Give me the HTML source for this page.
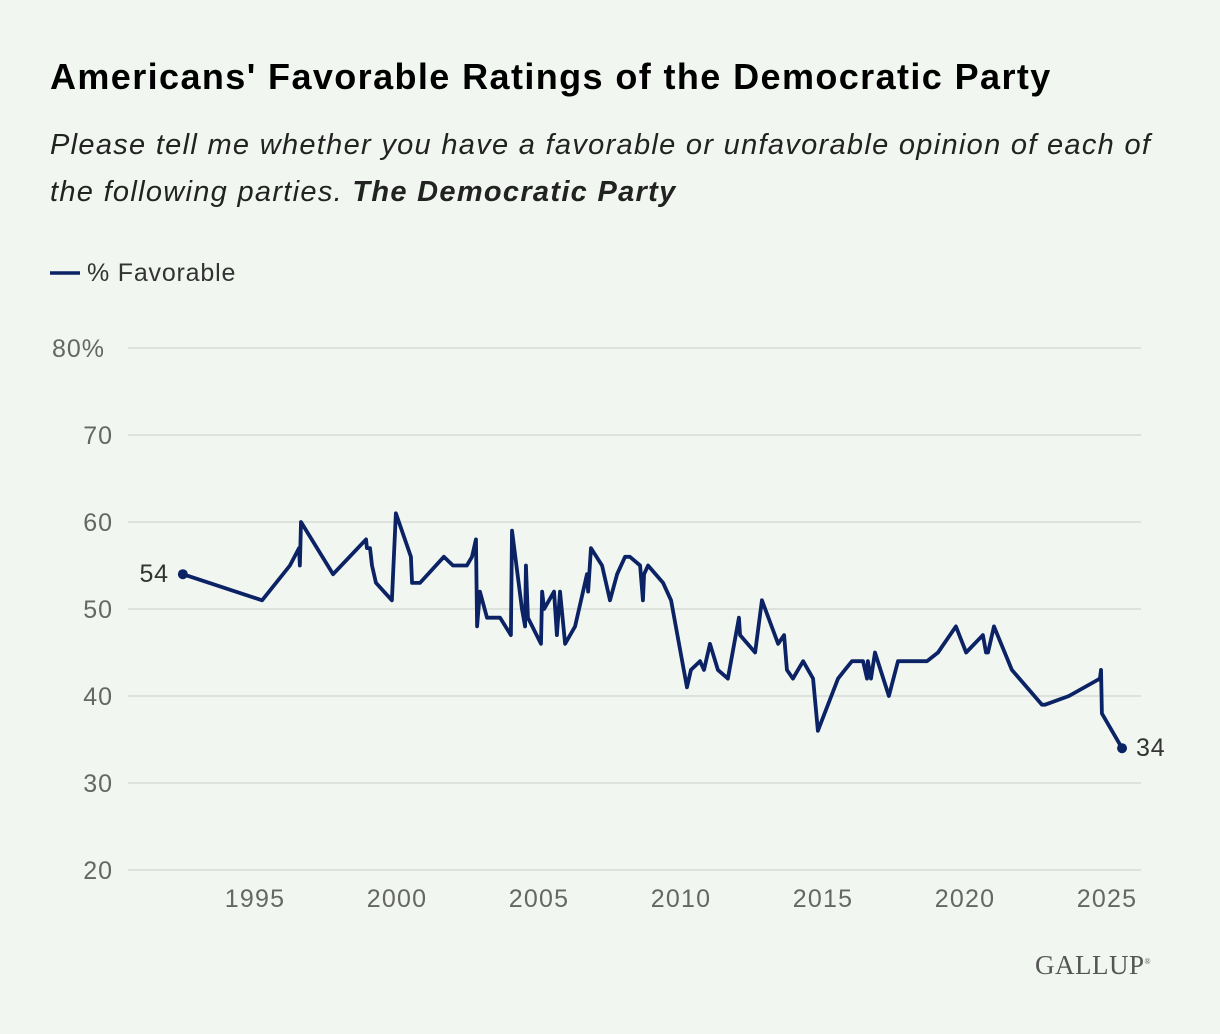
<!DOCTYPE html>
<html><head><meta charset="utf-8"><style>
body{margin:0;background:#f1f7f0;font-family:"Liberation Sans",sans-serif;}
#wrap{position:relative;width:1220px;height:1034px;overflow:hidden;}
h1{position:absolute;left:50px;top:56px;margin:0;font-size:36px;letter-spacing:1.4px;font-weight:bold;color:#000;white-space:nowrap;}
.sub{position:absolute;left:50px;top:122px;margin:0;font-size:29px;letter-spacing:1.3px;font-style:italic;color:#222;line-height:47px;width:1120px;}
.logo{position:absolute;left:1035px;top:950px;font-family:"Liberation Serif",serif;font-size:27px;color:#555;letter-spacing:0.5px;}
</style></head><body><div id="wrap">
<h1>Americans' Favorable Ratings of the Democratic Party</h1>
<p class="sub">Please tell me whether you have a favorable or unfavorable opinion of each of the following parties. <b>The Democratic Party</b></p>
<svg id="chart" width="1220" height="1034" style="position:absolute;left:0;top:0"></svg>
<div class="logo">GALLUP<sup style="font-size:8px">®</sup></div>
</div>
<script>
const years=[1992.46,1995.25,1996.23,1996.55,1996.58,1996.62,1997.75,1998.91,1998.94,1999.05,1999.12,1999.26,1999.82,1999.96,2000.49,2000.53,2000.81,2001.65,2001.97,2002.46,2002.64,2002.78,2002.82,2002.92,2003.17,2003.63,2004.01,2004.05,2004.40,2004.51,2004.54,2004.61,2005.07,2005.11,2005.18,2005.53,2005.63,2005.74,2005.92,2006.27,2006.69,2006.73,2006.83,2007.22,2007.50,2007.75,2008.03,2008.20,2008.56,2008.66,2008.70,2008.84,2009.37,2009.65,2010.21,2010.35,2010.67,2010.81,2011.02,2011.30,2011.65,2012.04,2012.08,2012.61,2012.85,2013.42,2013.63,2013.73,2013.94,2014.30,2014.65,2014.82,2015.53,2015.77,2016.02,2016.41,2016.55,2016.58,2016.69,2016.83,2017.32,2017.64,2018.66,2019.05,2019.68,2020.04,2020.63,2020.74,2020.81,2021.02,2021.65,2022.71,2022.82,2023.66,2024.75,2024.79,2024.82,2025.53];
const favorable=[54,51,55,57,55,60,54,58,57,57,55,53,51,61,56,53,53,56,55,55,56,58,48,52,49,49,47,59,50,48,55,49,46,52,50,52,47,52,46,48,54,52,57,55,51,54,56,56,55,51,54,55,53,51,41,43,44,43,46,43,42,49,47,45,51,46,47,43,42,44,42,36,42,43,44,44,42,44,42,45,40,44,44,45,48,45,47,45,45,48,43,39,39,40,42,43,38,34];
const yTicks=[20,30,40,50,60,70,80];
const xTicks=[1995,2000,2005,2010,2015,2020,2025];
const NS="http://www.w3.org/2000/svg";
const svg=document.getElementById('chart');
const x=v=>255+(v-1995)*28.4;
const y=v=>870-(v-20)*8.7;
function mk(t,a){const e=document.createElementNS(NS,t);for(const k in a)e.setAttribute(k,a[k]);svg.appendChild(e);return e;}
yTicks.forEach((t,i)=>{
 const l=mk('line',{x1:128,x2:1141,y1:y(t),y2:y(t),stroke:'#d7dcd6','stroke-width':1.5});
 
 
 const tx=mk('text',{x:i==yTicks.length-1?52:113,y:y(t)+9,'font-size':25,'letter-spacing':1,fill:'#666','text-anchor':i==yTicks.length-1?'start':'end','font-family':'Liberation Sans'});
 tx.textContent=t+(i==yTicks.length-1?'%':'');
 
 
});
xTicks.forEach(t=>{
 const tx=mk('text',{x:x(t),y:907,'font-size':25,'letter-spacing':1.2,fill:'#666','text-anchor':'middle','font-family':'Liberation Sans'});
 tx.textContent=t;
 
 
});
const ll=mk('line',{x1:50,x2:80,y1:273,y2:273,stroke:'#0b2265','stroke-width':3.5});


const lt=mk('text',{x:87,y:281,'font-size':25,'letter-spacing':0.8,fill:'#333','font-family':'Liberation Sans'});
lt.textContent='% Favorable';


const p=mk('polyline',{points:years.map((v,i)=>x(v)+','+y(favorable[i])).join(' '),fill:'none',stroke:'#0b2265','stroke-width':3.8,'stroke-linejoin':'round'});


[0,years.length-1].forEach((i,k)=>{
 const c=mk('circle',{cx:x(years[i]),cy:y(favorable[i]),r:5,fill:'#0b2265'});
 
 
 const t=mk('text',{x:x(years[i])+(k?14:-14),y:y(favorable[i])+8,'font-size':25,'letter-spacing':0.8,fill:'#333','text-anchor':k?'start':'end','font-family':'Liberation Sans'});
 t.textContent=favorable[i];
 
 
});
</script></body></html>
